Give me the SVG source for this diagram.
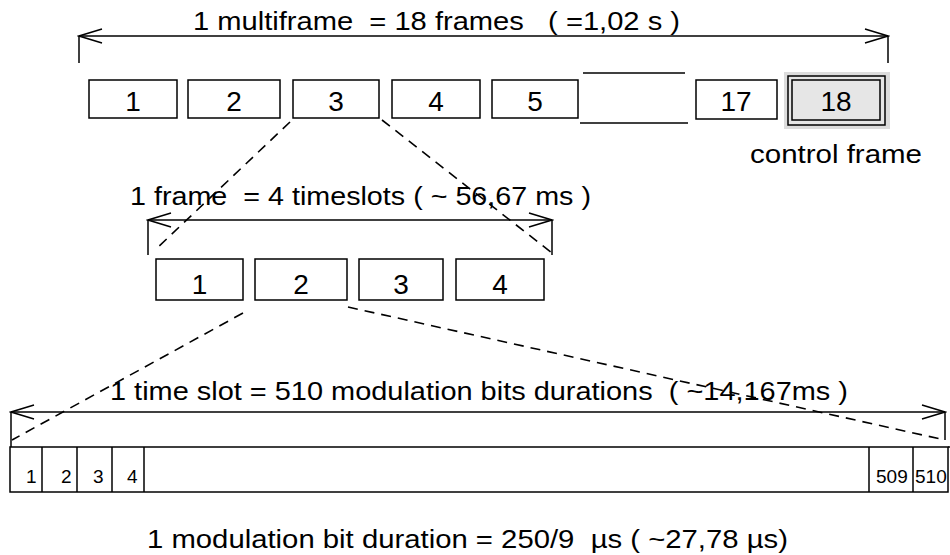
<svg xmlns="http://www.w3.org/2000/svg" width="950" height="555" viewBox="0 0 950 555">
<style>
text{font-family:"Liberation Sans",Arial,sans-serif;fill:#000;white-space:pre}
.t{font-size:26px}
.n{font-size:28px;text-anchor:middle}
.b{font-size:19px}
.box{fill:#fff;stroke:#000;stroke-width:1.5}
.ln{stroke:#000;stroke-width:1.5;fill:none}
.dash{stroke:#000;stroke-width:1.6;fill:none;stroke-dasharray:10,7}
</style>
<defs>
<marker id="ah" markerUnits="userSpaceOnUse" viewBox="-24 -9 26 18" refX="0" refY="0" markerWidth="26" markerHeight="18" orient="auto-start-reverse">
<path d="M-23,-7 L0,0 L-23,7" fill="none" stroke="#000" stroke-width="1.5"/>
</marker>
</defs>
<rect width="950" height="555" fill="#fff"/>

<g id="connectors">
<line class="ln" x1="79" y1="36" x2="888" y2="36" marker-start="url(#ah)" marker-end="url(#ah)"/>
<line class="ln" x1="79" y1="36" x2="79" y2="63"/>
<line class="ln" x1="888" y1="36" x2="888" y2="63"/>
<line class="dash" x1="290" y1="122" x2="155" y2="250"/>
<line class="dash" x1="382" y1="120" x2="552" y2="253"/>
<line class="ln" x1="148" y1="220" x2="552" y2="220" marker-start="url(#ah)" marker-end="url(#ah)"/>
<line class="ln" x1="148" y1="220" x2="148" y2="255"/>
<line class="ln" x1="552" y1="220" x2="552" y2="255"/>
<line class="dash" x1="243" y1="313" x2="12" y2="440"/>
<line class="dash" x1="348" y1="307" x2="945" y2="440"/>
<line class="ln" x1="11" y1="412" x2="945" y2="412" marker-start="url(#ah)" marker-end="url(#ah)"/>
<line class="ln" x1="11" y1="412" x2="11" y2="447"/>
<line class="ln" x1="945" y1="412" x2="945" y2="440"/>
</g>

<text class="t" x="193" y="30" textLength="487" lengthAdjust="spacingAndGlyphs">1 multiframe  = 18 frames   ( =1,02 s )</text>

<g id="f1"><rect class="box" x="89" y="80" width="88" height="38"/><text class="n" x="133" y="111">1</text></g>
<g id="f2"><rect class="box" x="188" y="80" width="92" height="38"/><text class="n" x="234" y="111">2</text></g>
<g id="f3"><rect class="box" x="293" y="80" width="86" height="38"/><text class="n" x="336" y="111">3</text></g>
<g id="f4"><rect class="box" x="392" y="80" width="88" height="38"/><text class="n" x="436" y="111">4</text></g>
<g id="f5"><rect class="box" x="492" y="80" width="86" height="38"/><text class="n" x="535" y="111">5</text></g>
<g id="gap"><line class="ln" x1="583" y1="73" x2="685" y2="73"/><line class="ln" x1="580" y1="123" x2="688" y2="123"/></g>
<g id="f17"><rect class="box" x="696" y="80" width="81" height="39"/><text class="n" x="736" y="111">17</text></g>
<g id="f18">
<rect x="784" y="72" width="106" height="57" fill="#dcdcdc"/>
<rect x="788" y="76" width="97" height="49" fill="#e6e6e6" stroke="#000" stroke-width="1.5"/>
<rect x="792" y="80" width="88" height="40" fill="#e6e6e6" stroke="#000" stroke-width="1.5"/>
<text class="n" x="836" y="111">18</text>
</g>
<text class="t" x="750" y="163" textLength="172" lengthAdjust="spacingAndGlyphs">control frame</text>

<text class="t" x="130" y="205" textLength="461" lengthAdjust="spacingAndGlyphs">1 frame  = 4 timeslots ( ~ 56,67 ms )</text>

<g id="s1"><rect class="box" x="156" y="259" width="87" height="41"/><text class="n" x="199.5" y="294">1</text></g>
<g id="s2"><rect class="box" x="255" y="259" width="92" height="41"/><text class="n" x="301" y="294">2</text></g>
<g id="s3"><rect class="box" x="359" y="259" width="84" height="41"/><text class="n" x="401" y="294">3</text></g>
<g id="s4"><rect class="box" x="456" y="259" width="88" height="41"/><text class="n" x="500" y="294">4</text></g>

<text class="t" x="110" y="400" textLength="738" lengthAdjust="spacingAndGlyphs">1 time slot = 510 modulation bits durations  ( ~14,167ms )</text>

<g id="bits">
<rect class="box" x="10" y="447" width="938" height="45"/>
<line class="ln" x1="948" y1="447" x2="950" y2="447"/>
<line class="ln" x1="42" y1="447" x2="42" y2="492"/>
<line class="ln" x1="77" y1="447" x2="77" y2="492"/>
<line class="ln" x1="112" y1="447" x2="112" y2="492"/>
<line class="ln" x1="144" y1="447" x2="144" y2="492"/>
<line class="ln" x1="869" y1="447" x2="869" y2="492"/>
<line class="ln" x1="913" y1="447" x2="913" y2="492"/>
<text class="b" x="26" y="483">1</text>
<text class="b" x="61" y="483">2</text>
<text class="b" x="93" y="483">3</text>
<text class="b" x="127" y="483">4</text>
<text class="b" x="876" y="483">509</text>
<text class="b" x="915" y="483">510</text>
</g>

<text class="t" x="147" y="548" textLength="641" lengthAdjust="spacingAndGlyphs">1 modulation bit duration = 250/9  µs ( ~27,78 µs)</text>
</svg>
